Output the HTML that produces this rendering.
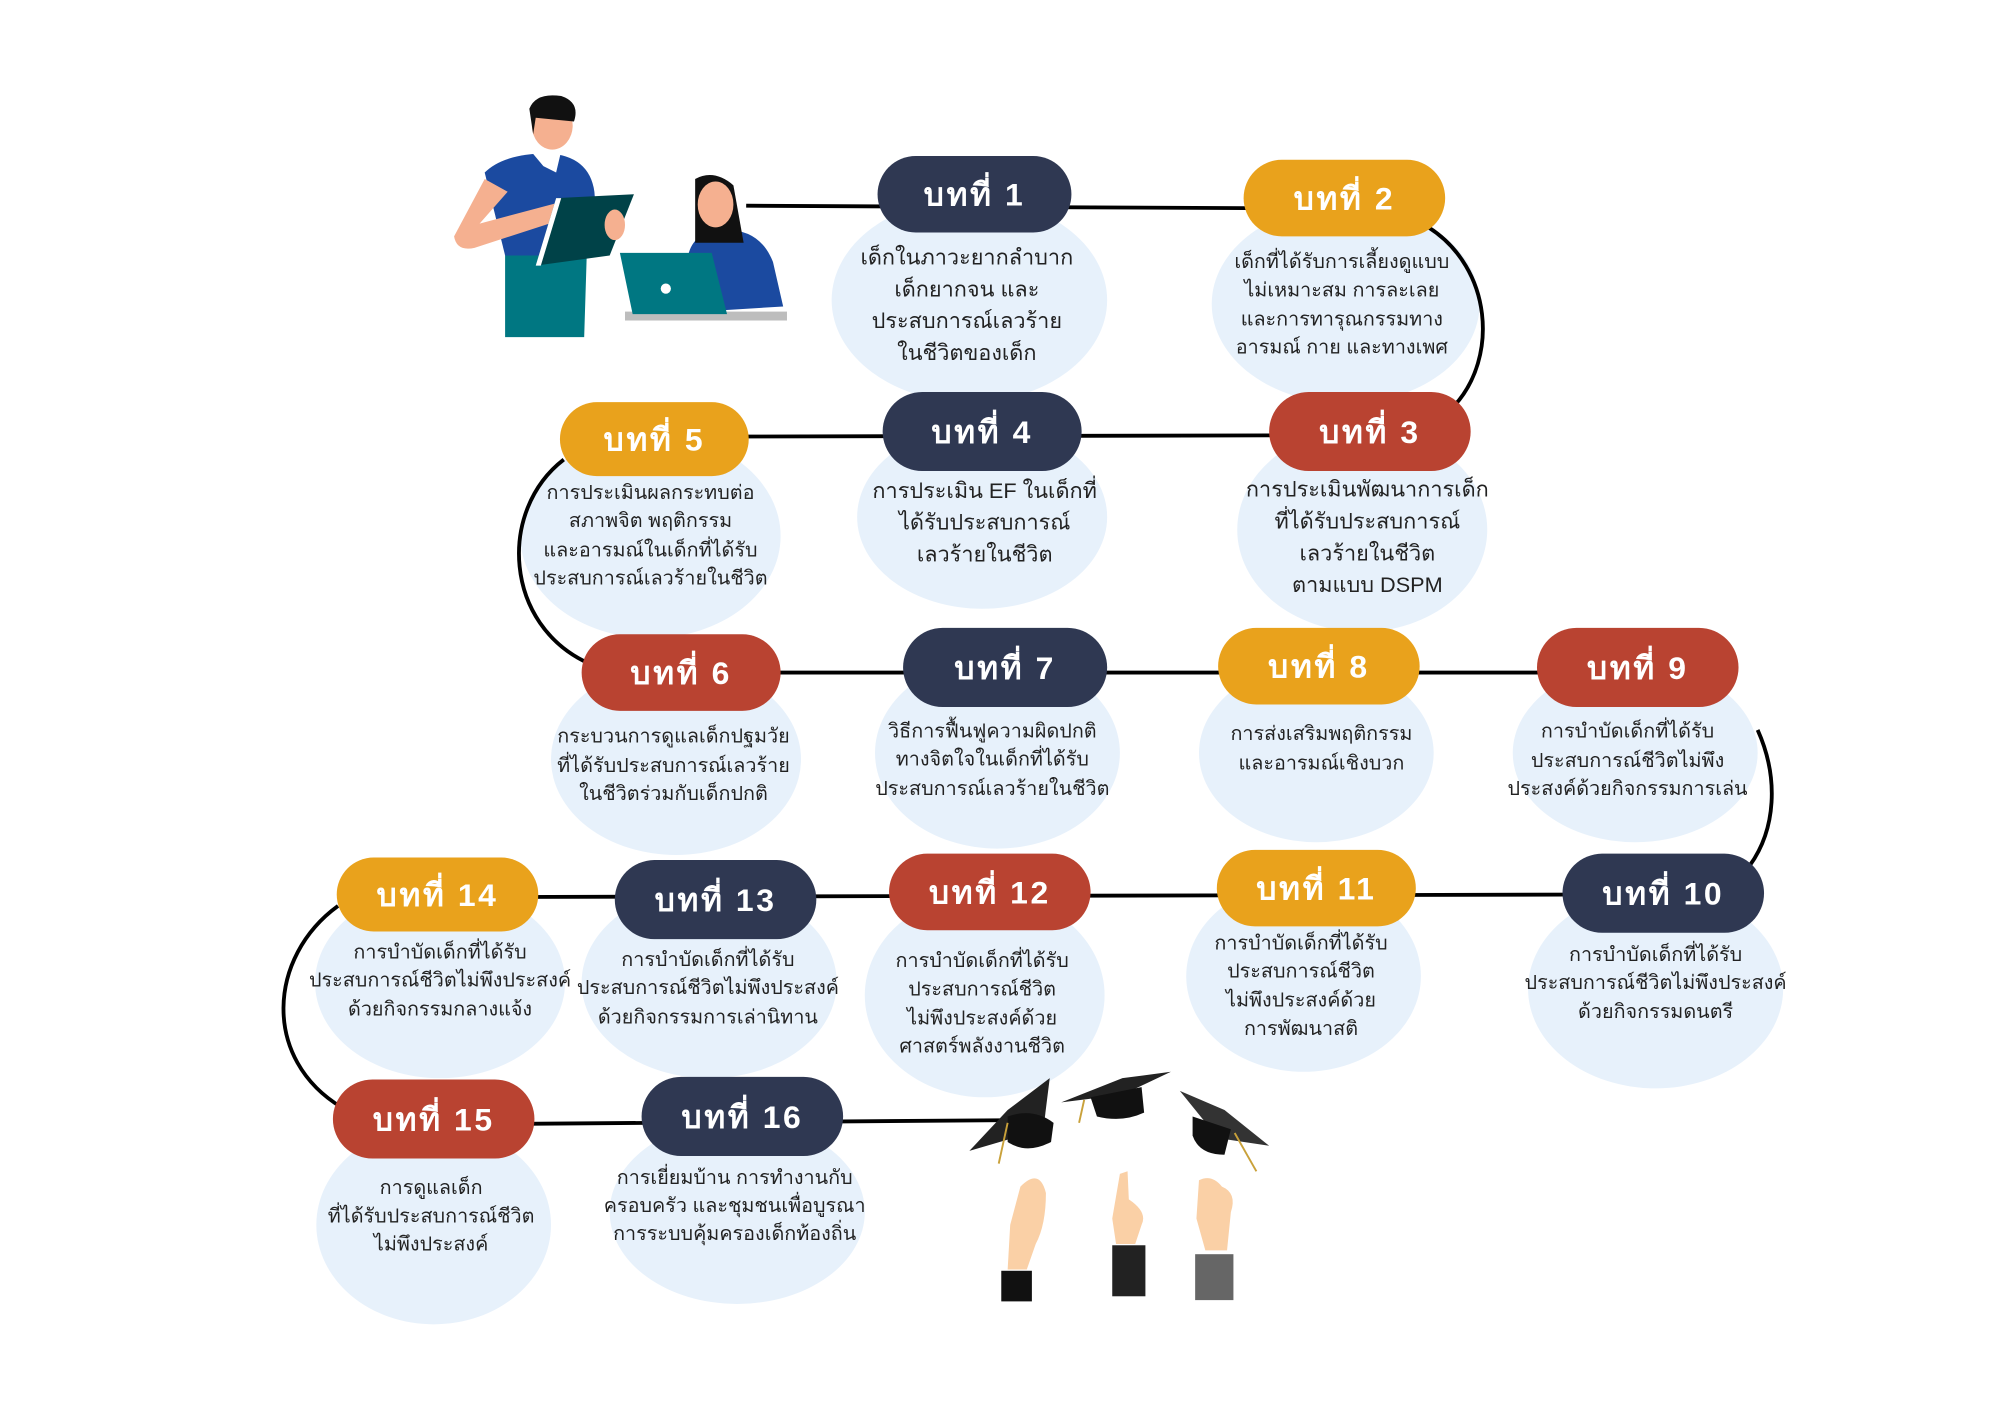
<!DOCTYPE html>
<html><head><meta charset="utf-8">
<style>
html,body{margin:0;padding:0;background:#fff;}
svg{display:block;}
.b{font-family:"Liberation Sans","DejaVu Sans",sans-serif;font-weight:bold;fill:#fff;font-size:25px;letter-spacing:2px;text-anchor:middle;}
.t{font-family:"Liberation Sans","DejaVu Sans",sans-serif;fill:#222;font-size:15.5px;text-anchor:middle;}
.bl{fill:#e7f1fb;}
.ln{stroke:#000;stroke-width:3;fill:none;}
</style></head>
<body>
<svg width="2000" height="1414" viewBox="0 0 1568 1108" xmlns="http://www.w3.org/2000/svg">
<rect width="1568" height="1108" fill="#fff"/>
<!-- blobs -->
<g class="bl">
<ellipse cx="760" cy="235" rx="108" ry="80"/>
<ellipse cx="1055" cy="238" rx="105" ry="78"/>
<ellipse cx="1068" cy="415" rx="98" ry="80"/>
<ellipse cx="770" cy="405" rx="98" ry="72"/>
<ellipse cx="510" cy="420" rx="102" ry="80"/>
<ellipse cx="530" cy="595" rx="98" ry="75"/>
<ellipse cx="782" cy="590" rx="96" ry="75"/>
<ellipse cx="1032" cy="590" rx="92" ry="70"/>
<ellipse cx="1282" cy="590" rx="96" ry="70"/>
<ellipse cx="1298" cy="775" rx="100" ry="78"/>
<ellipse cx="1022" cy="765" rx="92" ry="75"/>
<ellipse cx="772" cy="780" rx="94" ry="80"/>
<ellipse cx="556" cy="770" rx="100" ry="75"/>
<ellipse cx="345" cy="770" rx="98" ry="75"/>
<ellipse cx="340" cy="960" rx="92" ry="78"/>
<ellipse cx="578" cy="950" rx="100" ry="72"/>
</g>
<!-- lines -->
<path class="ln" d="M585 161 L1000 163"/>
<path class="ln" d="M1120 178 C1170 210 1175 280 1140 318"/>
<path class="ln" d="M560 342 L1020 341"/>
<path class="ln" d="M442 360 C390 400 395 490 462 520"/>
<path class="ln" d="M560 527 L1260 527"/>
<path class="ln" d="M1378 572 C1395 610 1392 650 1372 678"/>
<path class="ln" d="M380 703 L1260 701"/>
<path class="ln" d="M265 710 C210 750 205 830 268 868"/>
<path class="ln" d="M380 881 L785 878"/>
<!-- badges -->
<g>
<rect x="688" y="122" width="152" height="60" rx="30" fill="#2f3852"/><text class="b" x="764" y="161">บทที่ 1</text>
<rect x="975" y="125" width="158" height="60" rx="30" fill="#e9a21c"/><text class="b" x="1054" y="164">บทที่ 2</text>
<rect x="995" y="307" width="158" height="62" rx="31" fill="#b94331"/><text class="b" x="1074" y="347">บทที่ 3</text>
<rect x="692" y="307" width="156" height="62" rx="31" fill="#2f3852"/><text class="b" x="770" y="347">บทที่ 4</text>
<rect x="439" y="315" width="148" height="58" rx="29" fill="#e9a21c"/><text class="b" x="513" y="353">บทที่ 5</text>
<rect x="456" y="497" width="156" height="60" rx="30" fill="#b94331"/><text class="b" x="534" y="536">บทที่ 6</text>
<rect x="708" y="492" width="160" height="62" rx="31" fill="#2f3852"/><text class="b" x="788" y="532">บทที่ 7</text>
<rect x="955" y="492" width="158" height="60" rx="30" fill="#e9a21c"/><text class="b" x="1034" y="531">บทที่ 8</text>
<rect x="1205" y="492" width="158" height="62" rx="31" fill="#b94331"/><text class="b" x="1284" y="532">บทที่ 9</text>
<rect x="1225" y="669" width="158" height="62" rx="31" fill="#2f3852"/><text class="b" x="1304" y="709">บทที่ 10</text>
<rect x="954" y="666" width="156" height="60" rx="30" fill="#e9a21c"/><text class="b" x="1032" y="705">บทที่ 11</text>
<rect x="697" y="669" width="158" height="60" rx="30" fill="#b94331"/><text class="b" x="776" y="708">บทที่ 12</text>
<rect x="482" y="674" width="158" height="62" rx="31" fill="#2f3852"/><text class="b" x="561" y="714">บทที่ 13</text>
<rect x="264" y="672" width="158" height="58" rx="29" fill="#e9a21c"/><text class="b" x="343" y="710">บทที่ 14</text>
<rect x="261" y="846" width="158" height="62" rx="31" fill="#b94331"/><text class="b" x="340" y="886">บทที่ 15</text>
<rect x="503" y="844" width="158" height="62" rx="31" fill="#2f3852"/><text class="b" x="582" y="884">บทที่ 16</text>
</g>
<!-- texts -->
<g class="t">
<text x="758" y="207" font-size="17">เด็กในภาวะยากลำบาก</text><text x="758" y="232" font-size="17">เด็กยากจน และ</text><text x="758" y="257" font-size="17">ประสบการณ์เลวร้าย</text><text x="758" y="282" font-size="17">ในชีวิตของเด็ก</text>
<text x="1052" y="210">เด็กที่ได้รับการเลี้ยงดูแบบ</text><text x="1052" y="232">ไม่เหมาะสม การละเลย</text><text x="1052" y="255">และการทารุณกรรมทาง</text><text x="1052" y="277">อารมณ์ กาย และทางเพศ</text>
<text x="1072" y="389" font-size="17">การประเมินพัฒนาการเด็ก</text><text x="1072" y="414" font-size="17">ที่ได้รับประสบการณ์</text><text x="1072" y="439" font-size="17">เลวร้ายในชีวิต</text><text x="1072" y="464" font-size="17">ตามแบบ DSPM</text>
<text x="772" y="390" font-size="17">การประเมิน EF ในเด็กที่</text><text x="772" y="415" font-size="17">ได้รับประสบการณ์</text><text x="772" y="440" font-size="17">เลวร้ายในชีวิต</text>
<text x="510" y="391">การประเมินผลกระทบต่อ</text><text x="510" y="413">สภาพจิต พฤติกรรม</text><text x="510" y="436">และอารมณ์ในเด็กที่ได้รับ</text><text x="510" y="458">ประสบการณ์เลวร้ายในชีวิต</text>
<text x="528" y="582">กระบวนการดูแลเด็กปฐมวัย</text><text x="528" y="605">ที่ได้รับประสบการณ์เลวร้าย</text><text x="528" y="627">ในชีวิตร่วมกับเด็กปกติ</text>
<text x="778" y="578">วิธีการฟื้นฟูความผิดปกติ</text><text x="778" y="600">ทางจิตใจในเด็กที่ได้รับ</text><text x="778" y="623">ประสบการณ์เลวร้ายในชีวิต</text>
<text x="1036" y="580">การส่งเสริมพฤติกรรม</text><text x="1036" y="603">และอารมณ์เชิงบวก</text>
<text x="1276" y="578">การบำบัดเด็กที่ได้รับ</text><text x="1276" y="601">ประสบการณ์ชีวิตไม่พึง</text><text x="1276" y="623">ประสงค์ด้วยกิจกรรมการเล่น</text>
<text x="1298" y="753">การบำบัดเด็กที่ได้รับ</text><text x="1298" y="775">ประสบการณ์ชีวิตไม่พึงประสงค์</text><text x="1298" y="798">ด้วยกิจกรรมดนตรี</text>
<text x="1020" y="744">การบำบัดเด็กที่ได้รับ</text><text x="1020" y="766">ประสบการณ์ชีวิต</text><text x="1020" y="789">ไม่พึงประสงค์ด้วย</text><text x="1020" y="811">การพัฒนาสติ</text>
<text x="770" y="758">การบำบัดเด็กที่ได้รับ</text><text x="770" y="780">ประสบการณ์ชีวิต</text><text x="770" y="803">ไม่พึงประสงค์ด้วย</text><text x="770" y="825">ศาสตร์พลังงานชีวิต</text>
<text x="555" y="757">การบำบัดเด็กที่ได้รับ</text><text x="555" y="779">ประสบการณ์ชีวิตไม่พึงประสงค์</text><text x="555" y="802">ด้วยกิจกรรมการเล่านิทาน</text>
<text x="345" y="751">การบำบัดเด็กที่ได้รับ</text><text x="345" y="773">ประสบการณ์ชีวิตไม่พึงประสงค์</text><text x="345" y="796">ด้วยกิจกรรมกลางแจ้ง</text>
<text x="338" y="936">การดูแลเด็ก</text><text x="338" y="958">ที่ได้รับประสบการณ์ชีวิต</text><text x="338" y="980">ไม่พึงประสงค์</text>
<text x="576" y="928">การเยี่ยมบ้าน การทำงานกับ</text><text x="576" y="950">ครอบครัว และชุมชนเพื่อบูรณา</text><text x="576" y="972">การระบบคุ้มครองเด็กท้องถิ่น</text>
</g>
<!-- people -->
<g>
<rect x="490" y="244" width="127" height="7" fill="#bdbdbd"/>
<path d="M540 198 Q545 180 570 180 Q596 180 606 205 L614 240 L565 243 Z" fill="#1b4aa0"/>
<path d="M545 140 Q560 132 575 145 L583 190 L545 190 Z" fill="#111"/>
<ellipse cx="561" cy="160" rx="14" ry="18" fill="#f5b090"/>
<path d="M486 198 L558 198 L570 246 L496 246 Z" fill="#007782"/>
<circle cx="522" cy="226" r="4" fill="#fff"/>
<path d="M396 200 L460 200 L458 264 L396 264 Z" fill="#007782"/>
<path d="M380 135 Q395 120 430 120 Q462 122 466 150 L470 200 L396 200 Z" fill="#1b4aa0"/>
<path d="M380 140 L356 185 Q358 197 372 194 L440 172 L440 158 L376 175 L398 150 Z" fill="#f5b090"/>
<path d="M416 118 L440 118 L436 135 L426 130 Z" fill="#fff"/>
<ellipse cx="433" cy="98" rx="16" ry="19" fill="#f5b090"/>
<path d="M415 85 Q420 72 440 75 Q455 80 450 95 L420 92 L418 105 Z" fill="#111"/>
<path d="M436 155 L497 152 L478 200 L420 208 Z" fill="#004248"/>
<path d="M436 155 L420 208 L424 208 L440 155 Z" fill="#fff"/>
<ellipse cx="482" cy="176" rx="8" ry="12" fill="#f5b090"/>
</g>
<!-- caps & hands -->
<g>
<path d="M760 902 L790 870 L823 845 L818 885 Z" fill="#222"/>
<path d="M790 875 Q810 868 826 880 L824 895 Q805 905 790 895 Z" fill="#111"/>
<path d="M832 864 L880 845 L918 840 L880 858 Z" fill="#222"/>
<path d="M855 860 L895 852 L897 872 Q880 880 860 875 Z" fill="#111"/>
<path d="M925 855 L960 870 L995 898 L955 892 Z" fill="#333"/>
<path d="M935 875 L965 885 L960 905 Q940 905 935 890 Z" fill="#111"/>
<line x1="790" y1="880" x2="783" y2="912" stroke="#c9a13a" stroke-width="1.5"/>
<line x1="850" y1="862" x2="846" y2="880" stroke="#c9a13a" stroke-width="1.5"/>
<line x1="968" y1="888" x2="985" y2="918" stroke="#c9a13a" stroke-width="1.5"/>
<path d="M800 930 Q815 915 820 935 Q820 960 812 975 L805 995 L790 995 L792 960 Z" fill="#fad0a6"/>
<rect x="785" y="996" width="24" height="24" fill="#111"/>
<path d="M878 920 L884 918 L885 940 Q900 950 895 960 L890 975 L875 975 L872 955 Z" fill="#fad0a6"/>
<rect x="872" y="976" width="26" height="40" fill="#222"/>
<path d="M940 925 Q950 920 958 930 Q970 935 965 950 L962 980 L945 980 L938 955 Z" fill="#fad0a6"/>
<rect x="937" y="983" width="30" height="36" fill="#666"/>
</g>
</svg>
</body></html>
